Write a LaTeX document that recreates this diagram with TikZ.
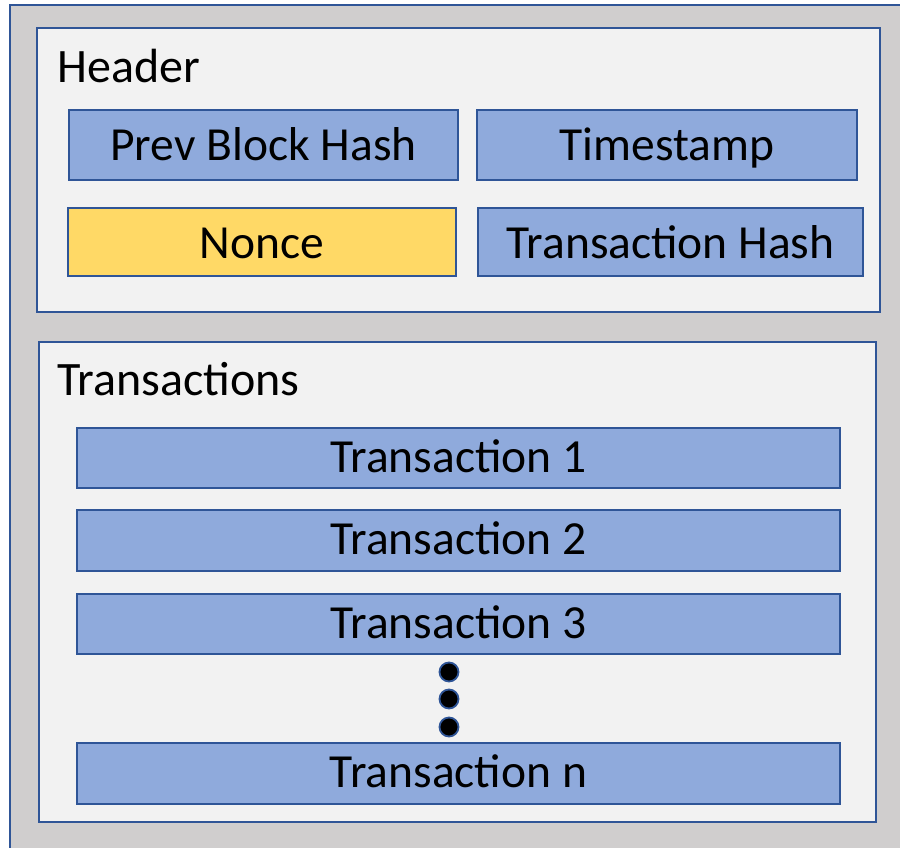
\documentclass[tikz,border=0pt]{standalone}
\usepackage{fontspec}
\setmainfont{Carlito}
\definecolor{frame}{HTML}{2F5597}
\definecolor{outerfill}{HTML}{D0CECE}
\definecolor{panelfill}{HTML}{F2F2F2}
\definecolor{fieldfill}{HTML}{8FAADC}
\definecolor{noncefill}{HTML}{FFD966}
\tikzset{
  panel/.style={draw=frame, fill=panelfill, line width=1.6pt},
  field/.style={draw=frame, fill=fieldfill, line width=1.6pt, inner sep=0pt},
  nonce/.style={field, fill=noncefill},
  lbl/.style={font=\fontsize{48}{58}\selectfont, inner sep=0pt, anchor=base west},
  boxtext/.style={font=\fontsize{47.5}{57}\selectfont, inner sep=0pt, anchor=base},
  dot/.style={circle, draw=frame, fill=black, line width=1.8pt, minimum size=19pt, inner sep=0pt}
}
\begin{document}
\begin{tikzpicture}[x=1pt, y=-1pt]
\useasboundingbox (0,0) rectangle (900,847);
\begin{scope}
\clip (0,0) rectangle (900,847);
% block frame
\draw[draw=frame, fill=outerfill, line width=1.6pt] (10,5) rectangle (920,870);
\end{scope}

% header panel
\draw[panel] (37,28) rectangle (880,312);
\node[lbl] (hdr) at (57,82) {Header};
\node[field, minimum width=389pt, minimum height=70pt] (prev) at (263.5,145) {};
\node[boxtext] at ([yshift=-15pt]prev.center) {Prev Block Hash};
\node[field, minimum width=380pt, minimum height=70pt] (ts) at (667,145) {};
\node[boxtext] at ([yshift=-15pt]ts.center) {Timestamp};
\node[nonce, minimum width=388pt, minimum height=68pt] (nonce) at (262,242) {};
\node[boxtext] at ([yshift=-16pt]nonce.center) {Nonce};
\node[field, minimum width=385pt, minimum height=68pt] (txh) at (670.5,242) {};
\node[boxtext] at ([yshift=-16pt]txh.center) {Transaction Hash};

% transactions panel
\draw[panel] (39,342) rectangle (876,822);
\node[lbl] (txs) at (57,395) {Transactions};
\node[field, minimum width=763pt, minimum height=60pt] (t1) at (458.5,458) {};
\node[boxtext] at ([yshift=-14pt]t1.center) {Transaction 1};
\node[field, minimum width=763pt, minimum height=61pt] (t2) at (458.5,540.5) {};
\node[boxtext] at ([yshift=-14pt]t2.center) {Transaction 2};
\node[field, minimum width=763pt, minimum height=60pt] (t3) at (458.5,624) {};
\node[boxtext] at ([yshift=-14pt]t3.center) {Transaction 3};
\node[dot] (d1) at (449,672) {};
\node[dot] (d2) at (449,699) {};
\node[dot] (d3) at (449,727) {};
\node[field, minimum width=763pt, minimum height=61pt] (tn) at (458.5,773.5) {};
\node[boxtext] at ([yshift=-14pt]tn.center) {Transaction n};
\end{tikzpicture}
\end{document}
